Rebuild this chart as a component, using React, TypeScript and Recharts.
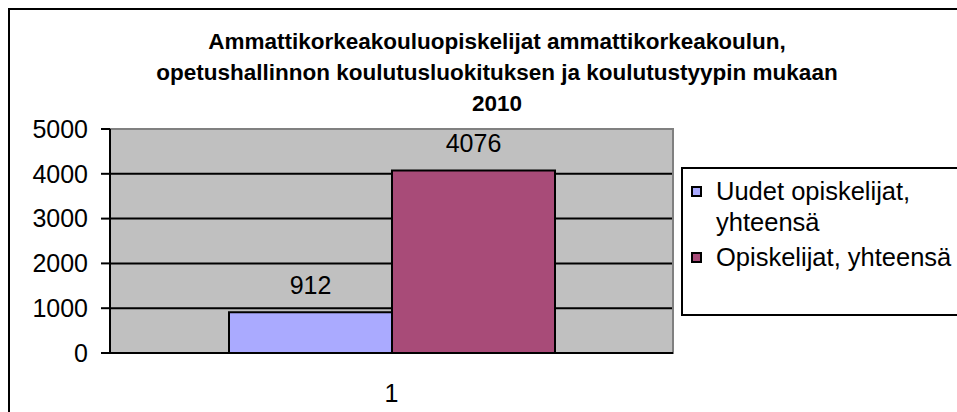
import React from 'react';
import { BarChart, Bar, XAxis, YAxis, CartesianGrid, ReferenceArea, LabelList } from 'recharts';

const categories = ['1'];
const seriesNames = ['Uudet opiskelijat, yhteensä', 'Opiskelijat, yhteensä'];
const legendLines = [['Uudet opiskelijat,', 'yhteensä'], ['Opiskelijat, yhteensä']];
const uudetValues = [912];
const opiskelijatValues = [4076];
const yTicks = [0, 1000, 2000, 3000, 4000, 5000];
const titleLines = [
    'Ammattikorkeakouluopiskelijat ammattikorkeakoulun,',
    'opetushallinnon koulutusluokituksen ja koulutustyypin mukaan',
    '2010',
];

const COLORS = ['#AAAAFF', '#A84B78'];
const FONT = '"Liberation Sans", Arial, sans-serif';

const data = categories.map((c, i) => ({
    name: c,
    uudet: uudetValues[i],
    opiskelijat: opiskelijatValues[i],
}));

export default function App() {
    return (
        <div style={{ position: 'fixed', left: 8, top: 8, width: 949, height: 404, overflow: 'hidden', fontFamily: FONT }}>
            <div style={{ position: 'relative', width: 980, height: 420, border: '2px solid #000', background: '#fff' }}>
                {/* Otsikko */}
                <div
                    style={{
                        position: 'absolute',
                        left: 0,
                        top: 16,
                        width: 974,
                        textAlign: 'center',
                        fontWeight: 'bold',
                        fontSize: 22.5,
                        lineHeight: '31px',
                        color: '#000',
                    }}
                >
                    {titleLines.map((t) => (
                        <div key={t}>{t}</div>
                    ))}
                </div>

                <div style={{ position: 'absolute', left: 0, top: 0 }}>
                    <BarChart
                        width={947}
                        height={402}
                        data={data}
                        margin={{ top: 119, right: 284, bottom: 0, left: 0 }}
                        barCategoryGap={119}
                        barGap={0}
                    >
                        <CartesianGrid vertical={false} fill="#C0C0C0" fillOpacity={1} stroke="#000" strokeWidth={2} />
                        <ReferenceArea y1={0} y2={5000} fill="none" stroke="#808080" strokeWidth={2} ifOverflow="visible" />
                        <XAxis
                            dataKey="name"
                            height={59}
                            axisLine={{ stroke: '#000', strokeWidth: 2 }}
                            tickLine={false}
                            tickMargin={25}
                            tick={{ fill: '#000', fontSize: 25, fontFamily: FONT }}
                        />
                        <YAxis
                            width={100}
                            domain={[0, 5000]}
                            ticks={yTicks}
                            interval={0}
                            axisLine={{ stroke: '#000', strokeWidth: 2 }}
                            tickLine={{ stroke: '#000', strokeWidth: 2 }}
                            tickSize={9}
                            tickMargin={13}
                            tick={{ fill: '#000', fontSize: 25, fontFamily: FONT }}
                        />
                        <Bar dataKey="uudet" name={seriesNames[0]} fill={COLORS[0]} stroke="#000" strokeWidth={2} isAnimationActive={false}>
                            <LabelList dataKey="uudet" position="top" offset={18} fill="#000" fontSize={25} fontFamily={FONT} />
                        </Bar>
                        <Bar dataKey="opiskelijat" name={seriesNames[1]} fill={COLORS[1]} stroke="#000" strokeWidth={2} isAnimationActive={false}>
                            <LabelList dataKey="opiskelijat" position="top" offset={18} fill="#000" fontSize={25} fontFamily={FONT} />
                        </Bar>
                    </BarChart>
                </div>

                {/* Selite */}
                <div
                    style={{
                        position: 'absolute',
                        left: 671,
                        top: 157,
                        width: 300,
                        height: 145,
                        border: '2px solid #000',
                        background: '#fff',
                    }}
                >
                    {legendLines.map((lines, i) => (
                        <div key={seriesNames[i]} style={{ position: 'relative', paddingLeft: 33, marginTop: i === 0 ? 7 : 4, fontSize: 25.5, lineHeight: '31px', color: '#000' }}>
                            <span
                                style={{
                                    position: 'absolute',
                                    left: 8,
                                    top: 10,
                                    width: 11,
                                    height: 11,
                                    background: COLORS[i],
                                    border: '2px solid #000',
                                    boxSizing: 'border-box',
                                }}
                            />
                            {lines.map((l) => (
                                <div key={l} style={{ whiteSpace: 'nowrap' }}>{l}</div>
                            ))}
                        </div>
                    ))}
                </div>
            </div>
        </div>
    );
}
